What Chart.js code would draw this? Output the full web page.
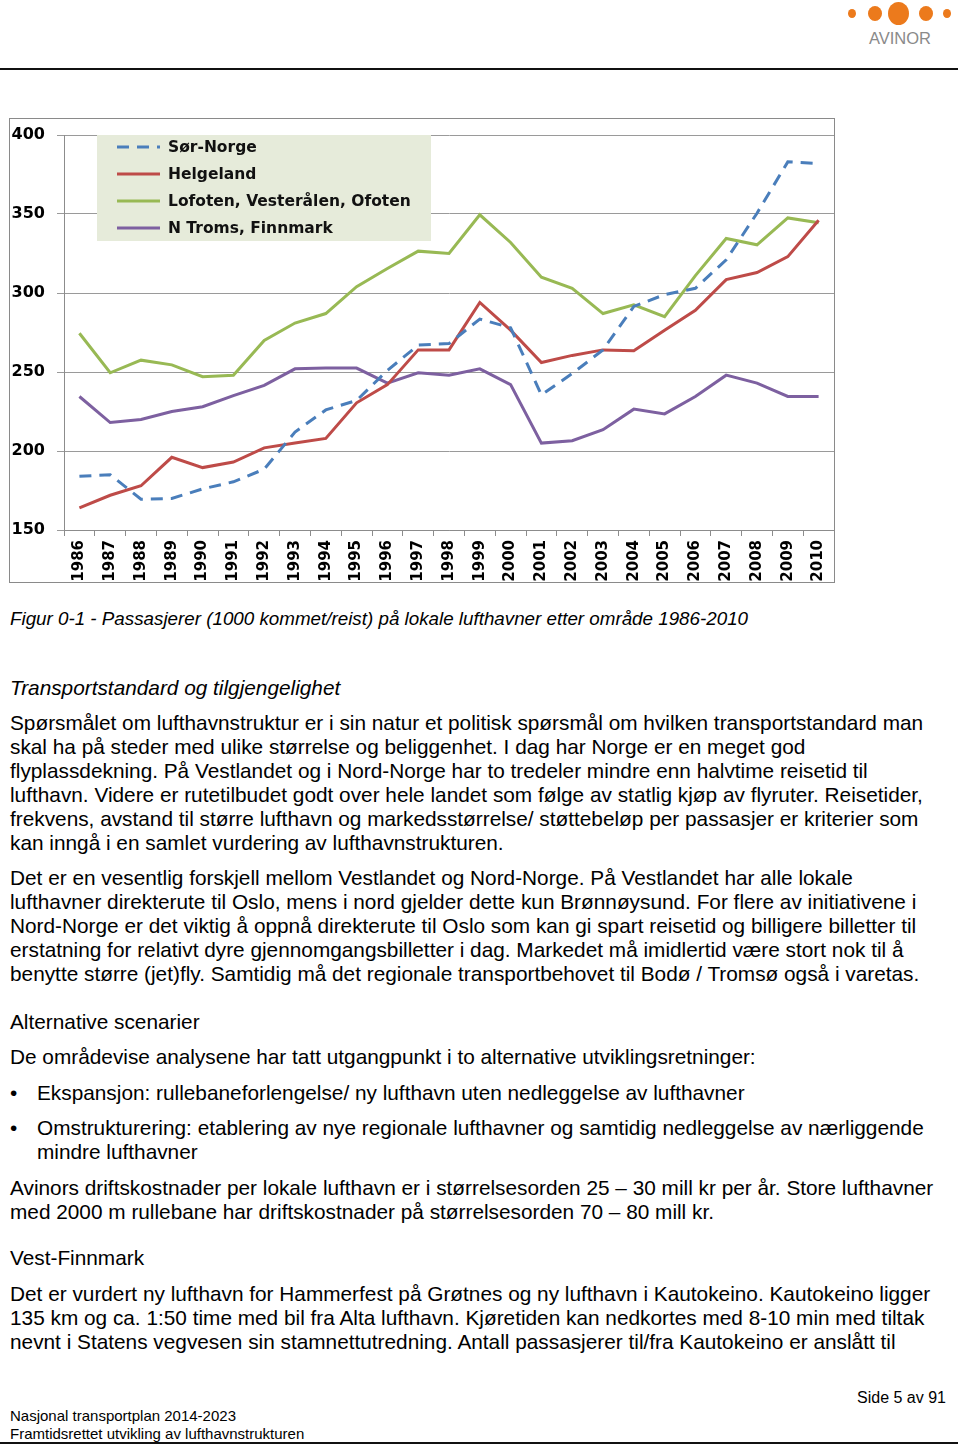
<!DOCTYPE html>
<html>
<head>
<meta charset="utf-8">
<script src="https://cdn.jsdelivr.net/npm/chart.js@4.4.0/dist/chart.umd.min.js"></script>
<style>
  html, body { margin: 0; padding: 0; background: #fff; }
  body { width: 960px; height: 1446px; position: relative; overflow: hidden;
         font-family: "Liberation Sans", Arial, sans-serif; color: #000; }
  .t { position: absolute; left: 10px; font-size: 20.8px; line-height: 24px; white-space: nowrap; }
  .it { font-style: italic; }
  .hr { position: absolute; left: 0; width: 958px; height: 2px; background: #111; }
  .dot { position: absolute; background: #ec7a1c; border-radius: 50%; }
  #chartBox { position: absolute; left: 9px; top: 118px; width: 826px; height: 465px;
              border: 1px solid #8a8a8a; box-sizing: border-box; }
  #passengers { display: block; }
  .foot { position: absolute; font-family: "Liberation Sans", sans-serif;
          font-size: 15px; line-height: 18px; white-space: nowrap; }
</style>
</head>
<body>

<!-- logo -->
<div class="dot" style="left:848px; top:9px; width:8px; height:9px;"></div>
<div class="dot" style="left:868px; top:6px; width:14px; height:15px;"></div>
<div class="dot" style="left:888px; top:2px; width:21px; height:23px;"></div>
<div class="dot" style="left:919px; top:6px; width:14px; height:15px;"></div>
<div class="dot" style="left:943px; top:9px; width:8px; height:9px;"></div>
<div style="position:absolute; left:869px; top:29px; font-family:'Liberation Sans',sans-serif; font-size:16.5px; color:#8a8a8a;">AVINOR</div>
<div class="hr" style="top:68px;"></div>

<div id="chartBox"><canvas id="passengers" width="824" height="463"></canvas></div>

<div class="t it" style="top:607px; font-size:18.8px;">Figur 0-1 - Passasjerer (1000 kommet/reist) på lokale lufthavner etter område 1986-2010</div>

<div class="t it" style="top:676px;">Transportstandard og tilgjengelighet</div>

<div class="t" style="top:711px;">Spørsmålet om lufthavnstruktur er i sin natur et politisk spørsmål om hvilken transportstandard man<br>skal ha på steder med ulike størrelse og beliggenhet. I dag har Norge er en meget god<br>flyplassdekning. På Vestlandet og i Nord-Norge har to tredeler mindre enn halvtime reisetid til<br>lufthavn. Videre er rutetilbudet godt over hele landet som følge av statlig kjøp av flyruter. Reisetider,<br>frekvens, avstand til større lufthavn og markedsstørrelse/ støttebeløp per passasjer er kriterier som<br>kan inngå i en samlet vurdering av lufthavnstrukturen.</div>

<div class="t" style="top:866px;">Det er en vesentlig forskjell mellom Vestlandet og Nord-Norge. På Vestlandet har alle lokale<br>lufthavner direkterute til Oslo, mens i nord gjelder dette kun Brønnøysund. For flere av initiativene i<br>Nord-Norge er det viktig å oppnå direkterute til Oslo som kan gi spart reisetid og billigere billetter til<br>erstatning for relativt dyre gjennomgangsbilletter i dag. Markedet må imidlertid være stort nok til å<br>benytte større (jet)fly. Samtidig må det regionale transportbehovet til Bodø / Tromsø også i varetas.</div>

<div class="t" style="top:1010px;">Alternative scenarier</div>
<div class="t" style="top:1045px;">De områdevise analysene har tatt utgangpunkt i to alternative utviklingsretninger:</div>

<div class="t" style="top:1081px;">•</div>
<div class="t" style="top:1081px; left:37px;">Ekspansjon: rullebaneforlengelse/ ny lufthavn uten nedleggelse av lufthavner</div>
<div class="t" style="top:1116px;">•</div>
<div class="t" style="top:1116px; left:37px;">Omstrukturering: etablering av nye regionale lufthavner og samtidig nedleggelse av nærliggende<br>mindre lufthavner</div>

<div class="t" style="top:1176px;">Avinors driftskostnader per lokale lufthavn er i størrelsesorden 25 – 30 mill kr per år. Store lufthavner<br>med 2000 m rullebane har driftskostnader på størrelsesorden 70 – 80 mill kr.</div>

<div class="t" style="top:1246px;">Vest-Finnmark</div>
<div class="t" style="top:1282px;">Det er vurdert ny lufthavn for Hammerfest på Grøtnes og ny lufthavn i Kautokeino. Kautokeino ligger<br>135 km og ca. 1:50 time med bil fra Alta lufthavn. Kjøretiden kan nedkortes med 8-10 min med tiltak<br>nevnt i Statens vegvesen sin stamnettutredning. Antall passasjerer til/fra Kautokeino er anslått til</div>

<!-- footer -->
<div class="foot" style="top:1389px; right:14px; font-size:16px;">Side 5 av 91</div>
<div class="foot" style="top:1407px; left:10px;">Nasjonal transportplan 2014-2023</div>
<div class="foot" style="top:1425px; left:10px;">Framtidsrettet utvikling av lufthavnstrukturen</div>
<div class="hr" style="top:1442px;"></div>

<script>
const years = ['1986', '1987', '1988', '1989', '1990', '1991', '1992', '1993', '1994', '1995',
               '1996', '1997', '1998', '1999', '2000', '2001', '2002', '2003', '2004', '2005',
               '2006', '2007', '2008', '2009', '2010'];
const yTicks = [150, 200, 250, 300, 350, 400];

const sorNorge  = [184, 185, 169.5, 170, 176, 180.5, 188.5, 212, 226, 232, 251, 267, 268,
                   283.5, 278, 235.5, 249, 264, 291.5, 299, 303, 321, 350.5, 383, 382];
const helgeland = [164, 172, 178, 196, 189.5, 193, 202, 205, 208, 230.5, 242, 264, 264,
                   294, 276.5, 256, 260.5, 264, 263.5, 276.5, 289, 308.5, 313, 323, 346];
const lofoten   = [274.5, 249.5, 257.5, 254.5, 247, 248, 270, 281, 287, 304, 315.5, 326.5, 325,
                   349.5, 332, 310, 303, 287, 292.5, 285, 311, 334.5, 330.5, 347.5, 344.5];
const nTroms    = [234.5, 218, 220, 225, 228, 235, 241.5, 252, 252.5, 252.5, 243, 249.5, 248,
                   252, 242, 205, 206.5, 213.5, 226.5, 223.5, 234.5, 248, 243, 234.5, 234.5];

const axisFont = { family: '"DejaVu Sans", Verdana, sans-serif', weight: 'bold' };

// legend box sitting inside the plot, drawn over the grid
const boxLegend = {
  id: 'boxLegend',
  afterDatasetsDraw(chart) {
    const ctx = chart.ctx;
    const x = 87, y = 16, w = 334, h = 106;
    ctx.save();
    ctx.fillStyle = '#e6ebda';
    ctx.fillRect(x, y, w, h);
    ctx.font = 'bold 15.5px "DejaVu Sans", Verdana, sans-serif';
    ctx.textBaseline = 'middle';
    chart.data.datasets.forEach((ds, i) => {
      const cy = y + 12 + i * 27;
      ctx.strokeStyle = ds.borderColor;
      ctx.lineWidth = 3;
      ctx.setLineDash(ds.borderDash || []);
      ctx.beginPath();
      ctx.moveTo(x + 20, cy);
      ctx.lineTo(x + 63, cy);
      ctx.stroke();
      ctx.setLineDash([]);
      ctx.fillStyle = '#111';
      ctx.fillText(ds.label, x + 71, cy + 1);
    });
    ctx.restore();
  }
};

new Chart(document.getElementById('passengers').getContext('2d'), {
  type: 'line',
  data: {
    labels: years,
    datasets: [
      { label: 'Sør-Norge', data: sorNorge, borderColor: '#4a7ebb', borderDash: [12, 8] },
      { label: 'Helgeland', data: helgeland, borderColor: '#be4b48' },
      { label: 'Lofoten, Vesterålen, Ofoten', data: lofoten, borderColor: '#98b954' },
      { label: 'N Troms, Finnmark', data: nTroms, borderColor: '#7d60a0' },
    ],
  },
  options: {
    responsive: false,
    animation: false,
    devicePixelRatio: 1,
    layout: { padding: { top: 16, right: 0, bottom: 0, left: 0 } },
    elements: {
      line: { borderWidth: 3, tension: 0, fill: false, borderCapStyle: 'butt' },
      point: { radius: 0, hoverRadius: 0, borderWidth: 0 },
    },
    plugins: { legend: { display: false }, tooltip: { enabled: false } },
    scales: {
      x: {
        offset: true,
        grid: { offset: true, drawOnChartArea: false, drawTicks: true, tickLength: 6, color: '#8c8c8c' },
        border: { color: '#8c8c8c', width: 1 },
        ticks: { autoSkip: false, minRotation: 90, maxRotation: 90, padding: 4, color: '#000',
                 font: Object.assign({ size: 15 }, axisFont) },
        afterFit(scale) {
          scale.height = 52;
          scale.paddingLeft = 0; scale.paddingRight = 0;
        },
      },
      y: {
        min: yTicks[0],
        max: yTicks[yTicks.length - 1],
        afterBuildTicks(scale) { scale.ticks = yTicks.map(v => ({ value: v })); },
        grid: { color: '#9a9a9a', tickLength: 7, lineWidth: 1 },
        border: { color: '#8c8c8c', width: 1 },
        ticks: { padding: 12, color: '#000', font: Object.assign({ size: 16 }, axisFont) },
        afterFit(scale) {
          scale.width = 54;
          scale.paddingTop = 0; scale.paddingBottom = 0;
        },
      },
    },
  },
  plugins: [boxLegend],
});
</script>
</body>
</html>
